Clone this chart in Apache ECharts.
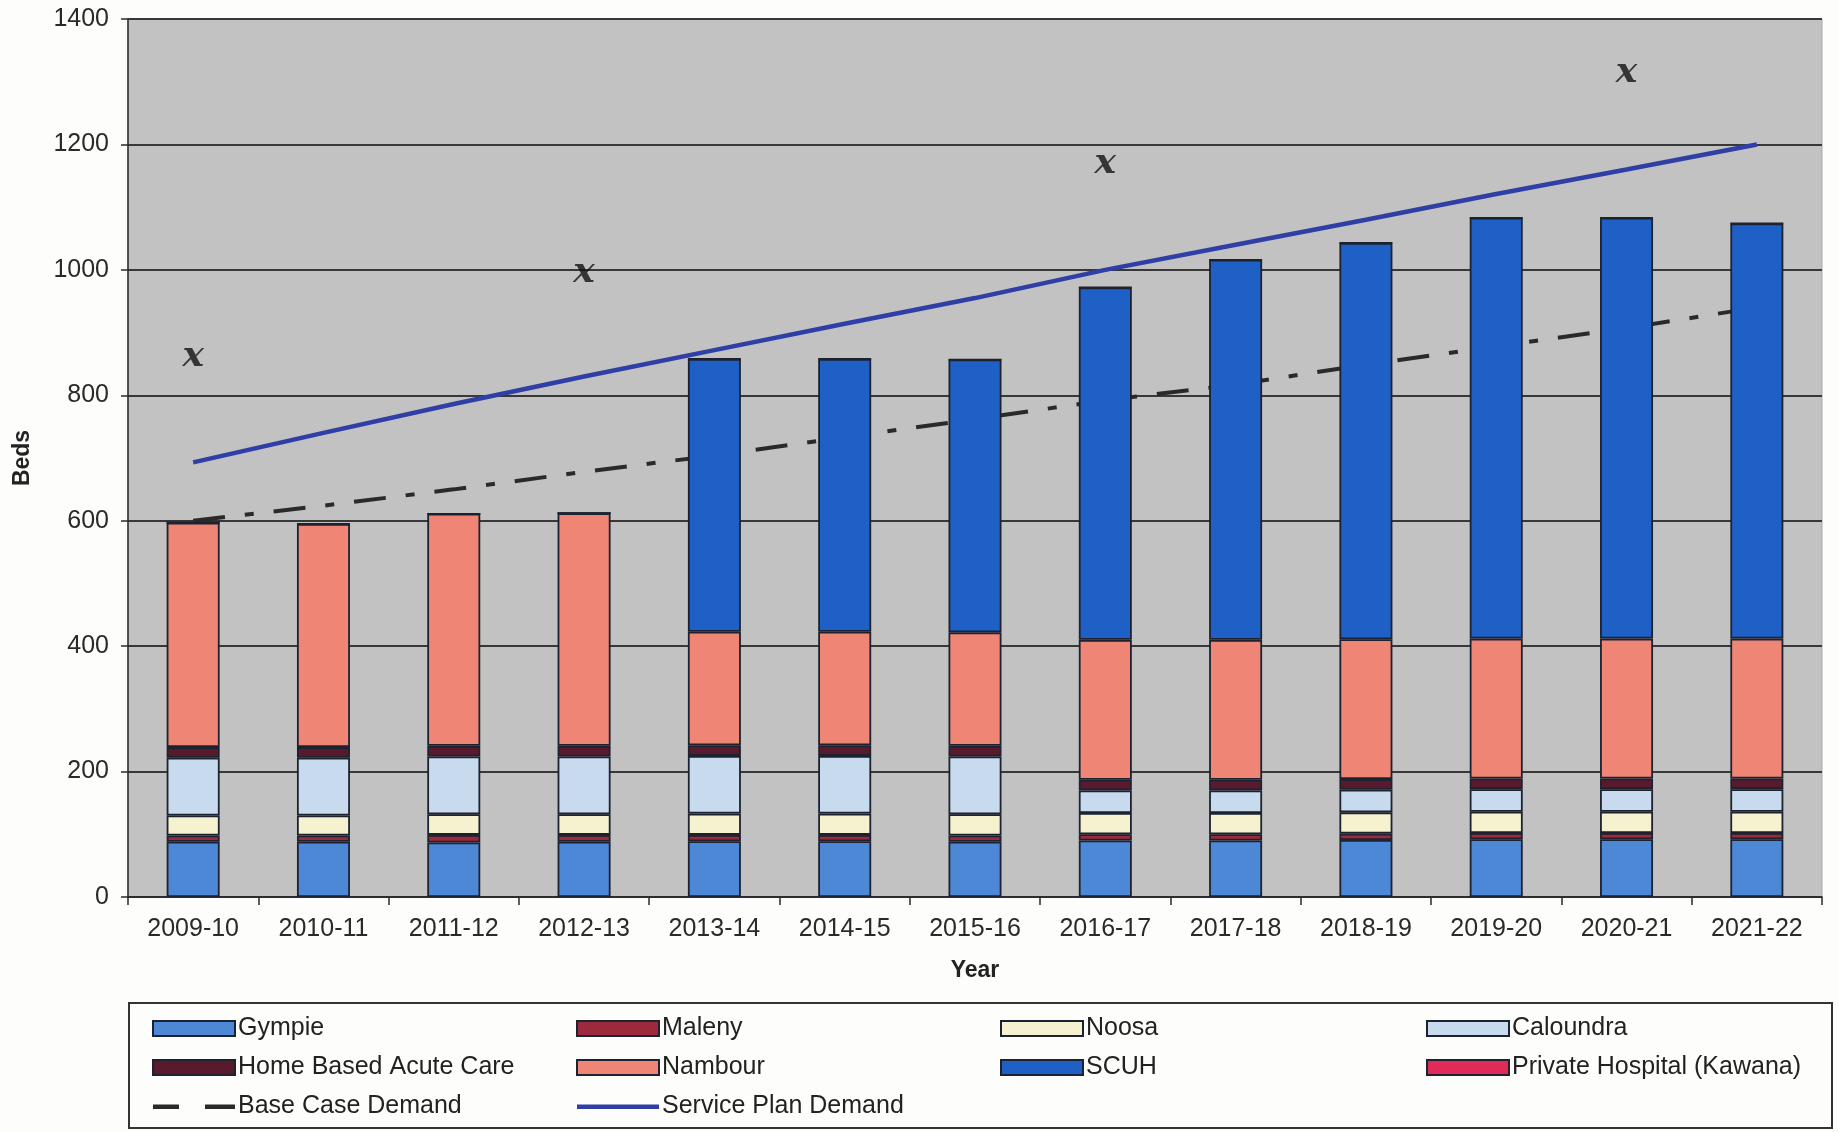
<!DOCTYPE html>
<html>
<head>
<meta charset="utf-8">
<script src="https://cdn.jsdelivr.net/npm/echarts@6/dist/echarts.min.js"></script>
<style>
  html, body { margin: 0; padding: 0; background: #fdfdfc; }
  #chart { width: 1839px; height: 1132px; }
</style>
</head>
<body>
<div id="chart"></div>
<script>
const years = ['2009-10', '2010-11', '2011-12', '2012-13', '2013-14', '2014-15', '2015-16',
  '2016-17', '2017-18', '2018-19', '2019-20', '2020-21', '2021-22'];

// stacked bed numbers, bottom to top
const gympie = [88, 88, 87, 88, 89, 89, 88, 90, 90, 91, 92, 92, 92];
const maleny = [10, 10, 12, 11, 10, 10, 10, 10, 10, 10, 10, 10, 10];
const noosa = [32, 32, 33, 33, 34, 34, 34, 34, 34, 34, 34, 34, 34];
const caloundra = [92, 92, 92, 92, 92, 92, 92, 36, 36, 36, 36, 36, 36];
const homeBased = [17, 17, 17, 17, 17, 17, 17, 17, 17, 17, 17, 17, 17];
const nambour = [358, 356, 370, 371, 181, 181, 181, 223, 223, 223, 223, 223, 223];
const scuh = [0, 0, 0, 0, 435, 435, 435, 562, 606, 632, 671, 671, 662];
const kawana = [0, 0, 0, 0, 0, 0, 0, 0, 0, 0, 0, 0, 0];

// demand lines
const baseCase = [600, 624, 650, 678, 704, 733, 762, 792, 817, 849, 878, 907, 940];
const servicePlan = [693, 740, 786, 830, 872, 914, 955, 1000, 1040, 1080, 1121, 1160, 1200];

// hand-drawn "x" marks
const marks = [862, null, null, 995, null, null, null, 1170, null, null, null, 1314, null];

const yTicks = [0, 200, 400, 600, 800, 1000, 1200, 1400];

const chart = echarts.init(document.getElementById('chart'));

const barBorder = '#1c2230';
const bar = (name, data, color) => ({
  name: name,
  type: 'bar',
  stack: 'beds',
  data: data,
  barWidth: 53,
  itemStyle: { color: color, borderColor: barBorder, borderWidth: 1.8 }
});

// legend icons for the two lines (tiny sliver keeps the full icon height)
const dashIcon = 'path://M0,0h0.01v15h-0.01z M0,5.5h26v4.5h-26z M52,5.5h30v4.5h-30z';
const solidIcon = 'path://M0,0h0.01v15h-0.01z M0,5.5h82v4.5h-82z';

const font = 'Liberation Sans, Arial, sans-serif';
const legendText = { fontFamily: font, fontSize: 25, color: '#222', padding: [0, 0, 0, -2] };
const legendCol = (left, names) => ({
  orient: 'vertical',
  left: left,
  top: 1016,
  padding: 0,
  itemGap: 14,
  itemWidth: 82,
  itemHeight: 15,
  textStyle: legendText,
  selectedMode: false,
  data: names.map(n => {
    if (n === 'Base Case Demand') return { name: n, icon: dashIcon };
    if (n === 'Service Plan Demand') return { name: n, icon: solidIcon };
    return { name: n, icon: 'rect' };
  })
});

const option = {
  backgroundColor: '#fdfdfc',
  animation: false,
  grid: {
    left: 128, right: 17, top: 19, bottom: 235,
    show: true,
    backgroundColor: '#c2c2c2',
    borderColor: '#a8a8a8',
    borderWidth: 1
  },
  legend: [
    legendCol(152, ['Gympie', 'Home Based Acute Care', 'Base Case Demand']),
    legendCol(576, ['Maleny', 'Nambour', 'Service Plan Demand']),
    legendCol(1000, ['Noosa', 'SCUH']),
    legendCol(1426, ['Caloundra', 'Private Hospital (Kawana)'])
  ],
  graphic: [{
    type: 'rect',
    shape: { x: 129, y: 1003, width: 1703, height: 125 },
    style: { fill: 'none', stroke: '#333', lineWidth: 2 }
  }],
  xAxis: {
    type: 'category',
    data: years,
    name: 'Year',
    nameLocation: 'middle',
    nameGap: 62,
    nameTextStyle: { fontFamily: font, fontSize: 23, fontWeight: 'bold', color: '#222' },
    axisLine: { lineStyle: { color: '#2a2a2a', width: 1.5 } },
    axisTick: { show: true, length: 8, lineStyle: { color: '#2a2a2a', width: 1.5 } },
    axisLabel: { fontFamily: font, fontSize: 25, color: '#2a2a2a', margin: 20 }
  },
  yAxis: {
    type: 'value',
    min: 0,
    max: 1400,
    interval: 200,
    name: 'Beds',
    nameLocation: 'middle',
    nameGap: 94,
    nameTextStyle: { fontFamily: font, fontSize: 23, fontWeight: 'bold', color: '#222' },
    axisLine: { show: true, lineStyle: { color: '#2a2a2a', width: 1.5 } },
    axisTick: { show: true, length: 7, lineStyle: { color: '#2a2a2a', width: 1.5 } },
    axisLabel: {
      fontFamily: font, fontSize: 25, color: '#2a2a2a', margin: 19,
      formatter: v => (yTicks.indexOf(v) >= 0 ? String(v) : '')
    },
    splitLine: { show: true, lineStyle: { color: '#383838', width: 1.8 } }
  },
  series: [
    bar('Gympie', gympie, '#4d88d6'),
    bar('Maleny', maleny, '#9c2a3c'),
    bar('Noosa', noosa, '#f6f2cf'),
    bar('Caloundra', caloundra, '#c8dbee'),
    bar('Home Based Acute Care', homeBased, '#5a1a2e'),
    bar('Nambour', nambour, '#ef8575'),
    bar('SCUH', scuh, '#1f60c6'),
    bar('Private Hospital (Kawana)', kawana, '#e02a58'),
    {
      name: 'Base Case Demand',
      type: 'line',
      data: baseCase,
      symbol: 'none',
      z: 1,
      itemStyle: { color: '#2a2a2a' },
      lineStyle: { color: '#2a2a2a', width: 4, type: [32, 20, 9, 20] }
    },
    {
      name: 'Service Plan Demand',
      type: 'line',
      data: servicePlan,
      symbol: 'none',
      z: 5,
      itemStyle: { color: '#2f3fa6' },
      lineStyle: { color: '#2f3fa6', width: 4.5 }
    },
    {
      name: 'marks',
      type: 'scatter',
      data: marks,
      symbolSize: 1,
      itemStyle: { color: 'rgba(0,0,0,0)' },
      z: 6,
      label: {
        show: true,
        position: 'inside',
        formatter: 'x',
        fontFamily: 'DejaVu Serif, serif',
        fontStyle: 'italic',
        fontWeight: 'bold',
        fontSize: 36,
        color: '#111'
      }
    }
  ]
};

chart.setOption(option);
</script>
</body>
</html>
